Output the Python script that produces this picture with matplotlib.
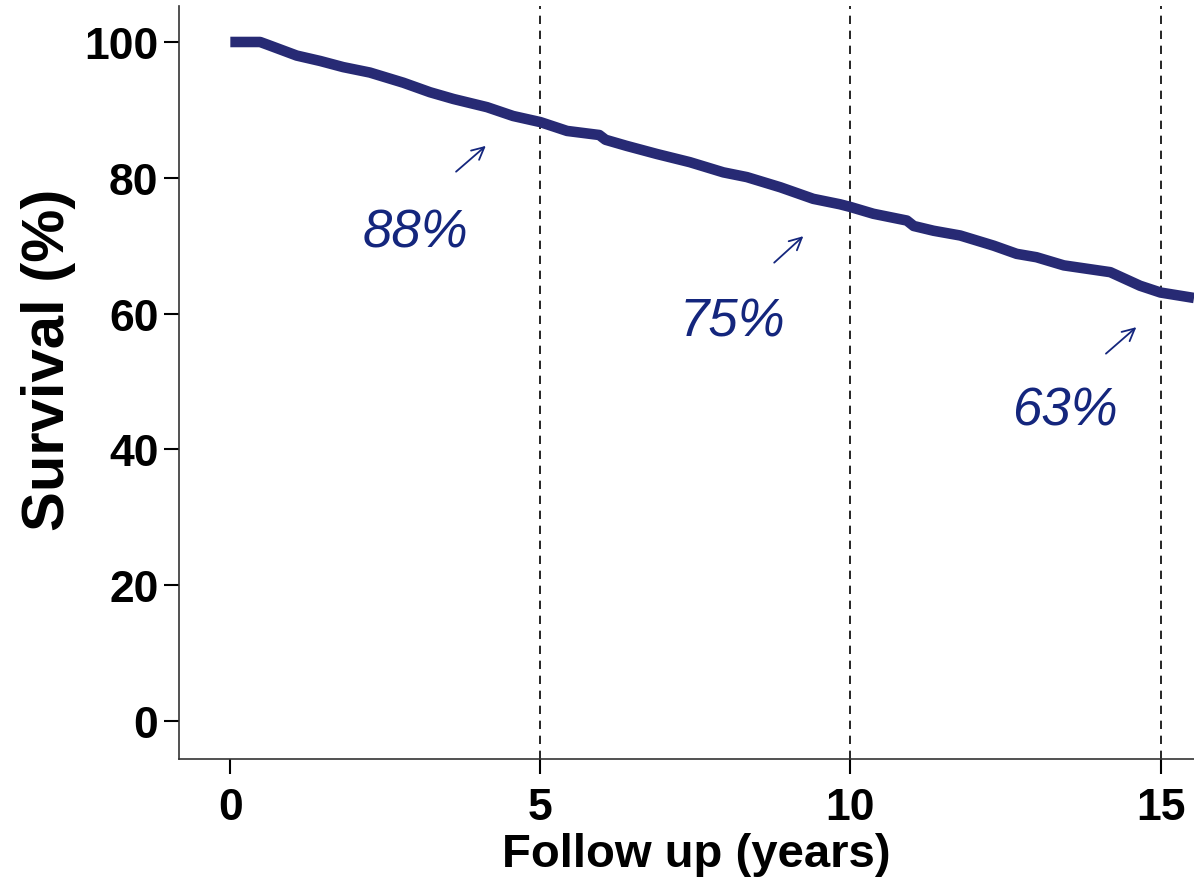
import matplotlib
matplotlib.use("Agg")
import matplotlib.pyplot as plt

# Survival curve (years, %)
years = [0.0, 0.48, 0.6, 1.07, 1.45, 1.82, 2.25, 2.79, 3.22, 3.60, 4.14, 4.56,
         5.0, 5.43, 5.95, 6.05, 6.39, 6.88, 7.41, 7.95, 8.33, 8.87, 9.40, 9.83, 10.0,
         10.37, 10.91, 11.02, 11.34, 11.77, 12.31, 12.68, 13.0, 13.44, 14.19,
         14.67, 15.0, 15.54]
survival = [100.0, 100.0, 99.6, 98.0, 97.2, 96.3, 95.5, 94.0, 92.6, 91.6, 90.4, 89.1,
            88.2, 86.9, 86.3, 85.6, 84.7, 83.5, 82.3, 80.8, 80.1, 78.6, 76.9, 76.1, 75.7,
            74.7, 73.7, 72.9, 72.2, 71.5, 70.0, 68.8, 68.3, 67.1, 66.1,
            64.1, 63.1, 62.3]

marker_years = [5, 10, 15]
labels = ["88%", "75%", "63%"]
label_pos = [(2.98, 72.0), (8.09, 58.9), (13.45, 45.7)]
arrow_tail = [(3.64, 80.9), (8.77, 67.5), (14.12, 54.1)]
arrow_head = [(4.12, 84.7), (9.24, 71.4), (14.61, 58.0)]

xticks = [0, 5, 10, 15]
yticks = [0, 20, 40, 60, 80, 100]

plt.rcParams['font.family'] = ['Liberation Sans', 'DejaVu Sans']

fig = plt.figure(figsize=(11.94, 8.79), dpi=100)
ax = fig.add_axes([179.3 / 1194, 1 - 760 / 879, 1 - 179.3 / 1194, (760 - 7) / 879])

curve_color = "#272a74"
ax.plot(years, survival, color=curve_color, lw=7.6,
        solid_capstyle="butt", solid_joinstyle="round", zorder=3)

for xv in marker_years:
    ax.axvline(xv, color="black", lw=1.2, ls=(0, (5, 4)), zorder=2)

text_color = "#14267d"
for lab, (tx, ty), tail, head in zip(labels, label_pos, arrow_tail, arrow_head):
    ax.text(tx, ty, lab, color=text_color, fontsize=38, fontstyle="italic",
            ha="center", va="center", zorder=4)
    ax.annotate("", xy=head, xytext=tail,
                arrowprops=dict(arrowstyle="->", color=text_color, lw=1.3,
                                mutation_scale=22, shrinkA=0, shrinkB=0))

ax.set_xlim(-0.823, 15.54)
ax.set_ylim(-5.6, 105.3)
ax.set_xticks(xticks)
ax.set_yticks(yticks)
ax.tick_params(axis="both", direction="out", length=11, width=1.5, labelsize=32)
ax.tick_params(axis="x", pad=9)
ax.tick_params(axis="y", pad=4)
for lbl in ax.get_xticklabels() + ax.get_yticklabels():
    lbl.set_fontweight("bold")

for s in ["top", "right"]:
    ax.spines[s].set_visible(False)
for s in ["left", "bottom"]:
    ax.spines[s].set_linewidth(1.2)
    ax.spines[s].set_color("#333333")

ax.set_xlabel("Follow up (years)", fontsize=34, fontweight="bold")
ax.set_ylabel("Survival (%)", fontsize=43, fontweight="bold", labelpad=6)
ax.xaxis.set_label_coords(0.510, -0.097)
ax.yaxis.label.set_y(0.531)

fig.savefig("out.png", dpi=100)
